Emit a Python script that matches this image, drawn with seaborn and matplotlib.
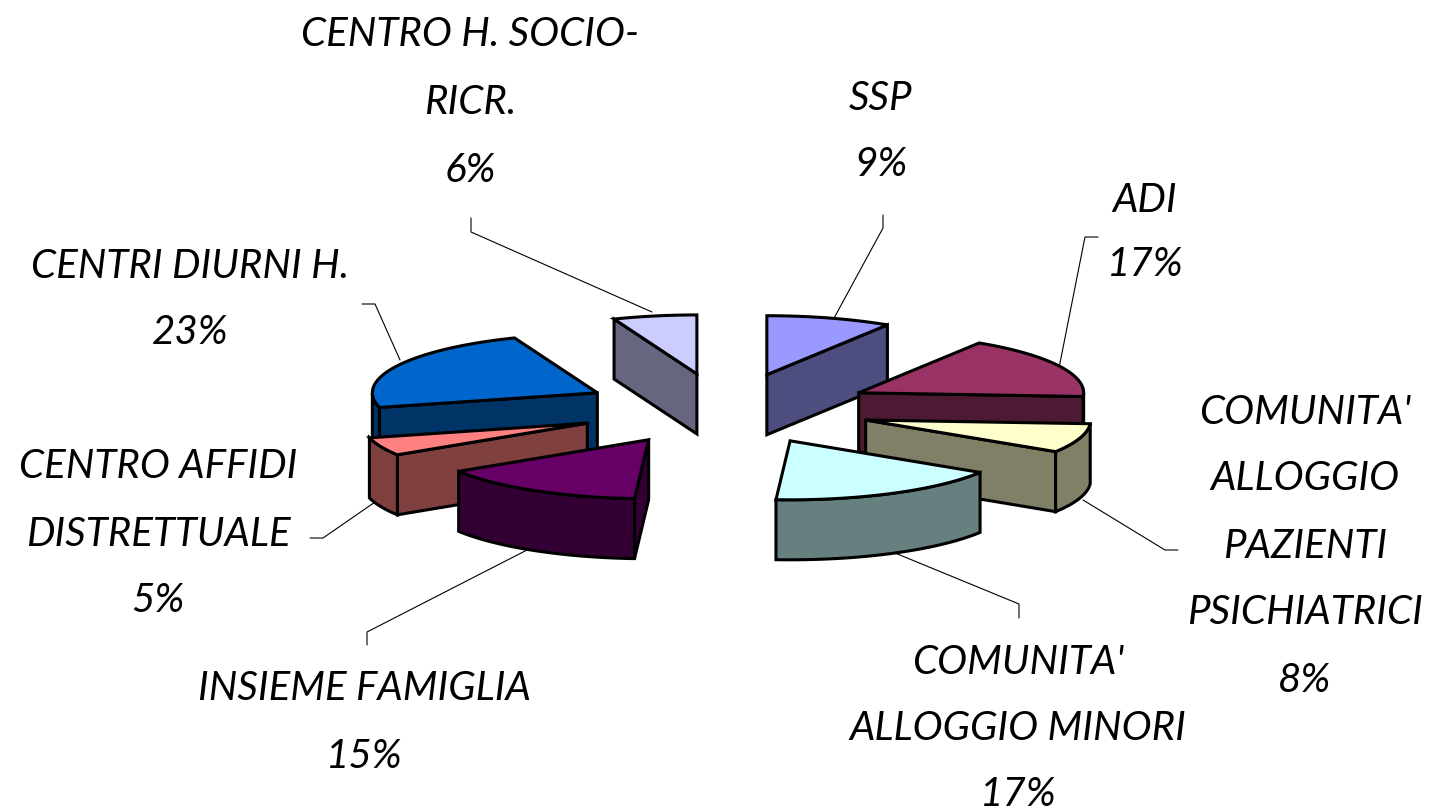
import numpy as np
import matplotlib
matplotlib.use("Agg")
from matplotlib import pyplot as plt
import seaborn as sns

# slices, clockwise from the top
names = ["SSP", "ADI", "COMUNITA'\nALLOGGIO\nPAZIENTI\nPSICHIATRICI",
         "COMUNITA'\nALLOGGIO MINORI", "INSIEME FAMIGLIA",
         "CENTRO AFFIDI\nDISTRETTUALE", "CENTRI DIURNI H.",
         "CENTRO H. SOCIO-\nRICR."]
values = [9, 17, 8, 17, 15, 5, 23, 6]
top_colors = ["#9999FF", "#993366", "#FFFFCC", "#CCFFFF",
              "#660066", "#FF8080", "#0066CC", "#CCCCFF"]

# label placement: x centre, y of first line, line gap
label_x = [881, 1145, 1305, 1018, 364, 158, 190, 470]
label_y = [98, 200, 412, 662, 689, 467, 266, 34]
label_gap = [67, 65, 67, 66, 67, 67, 67, 68]

# leader lines
leaders = [
    ([883, 883, 833], [215, 228, 320]),
    ([1098, 1085, 1059], [237, 237, 368]),
    ([1178, 1165, 1083], [550, 550, 500]),
    ([1019, 1019, 895], [618, 604, 553]),
    ([367, 367, 527], [645, 632, 550]),
    ([310, 323, 378], [538, 538, 500]),
    ([362, 375, 400], [304, 304, 360]),
    ([471, 471, 652], [218, 232, 312]),
]

# order the slices get painted, back to front
draw_order = [7, 0, 1, 6, 2, 3, 5, 4]
# small sideways corrections per slice
nudge_x = [0, 0, -2, -3, 0, 0, 6, 0]

CX, CY = 725, 409
RX, RY = 225, 59
EX, EY = 150, 35.7
DEPTH = 60


def face(ax, xs, ys, color):
    ax.fill(xs, ys, facecolor=color, edgecolor="black", linewidth=2.2,
            joinstyle="miter", zorder=ax.zcount)
    ax.zcount += 1


def draw_slice(ax, start, end, color, shift):
    side = tuple(c * 0.5 for c in color)
    mid = np.radians((start + end) / 2)
    ox = CX + EX * np.sin(mid) + shift
    oy = CY - EY * np.cos(mid)
    t = np.radians(np.linspace(start, end, 60))
    ax_x = ox + RX * np.sin(t)
    ax_y = oy - RY * np.cos(t)

    # cut faces that look towards the viewer
    if np.cos(np.radians(end + 90)) < 0:
        face(ax, [ox, ax_x[-1], ax_x[-1], ox],
             [oy, ax_y[-1], ax_y[-1] + DEPTH, oy + DEPTH], side)
    if np.cos(np.radians(start - 90)) < 0:
        face(ax, [ox, ax_x[0], ax_x[0], ox],
             [oy, ax_y[0], ax_y[0] + DEPTH, oy + DEPTH], side)

    # outer wall, only the front half of the rim
    front = np.cos(t) <= 0
    if front.any():
        fx, fy = ax_x[front], ax_y[front]
        face(ax, np.r_[fx, fx[::-1]], np.r_[fy, fy[::-1] + DEPTH], side)

    face(ax, np.r_[ox, ax_x], np.r_[oy, ax_y], color)


def main():
    sns.set_theme(style="white")
    plt.rcParams["font.family"] = ["Lato", "Liberation Sans"]
    palette = sns.color_palette(top_colors)

    fig = plt.figure(figsize=(14.3, 8.11), dpi=100)
    ax = fig.add_axes([0, 0, 1, 1])
    ax.set_xlim(0, 1430)
    ax.set_ylim(811, 0)
    ax.axis("off")
    ax.zcount = 3

    edges = np.cumsum([0] + values) * 360 / sum(values)
    for i in draw_order:
        draw_slice(ax, edges[i], edges[i + 1], palette[i], nudge_x[i])

    for lx, ly in leaders:
        ax.plot(lx, ly, color="black", linewidth=0.8, zorder=2)

    for i, name in enumerate(names):
        lines = name.split("\n") + [f"{values[i]}%"]
        for j, line in enumerate(lines):
            ax.text(label_x[i], label_y[i] + j * label_gap[i], line,
                    fontsize=29, style="italic", color="black",
                    ha="center", va="center")

    fig.savefig("out.png", dpi=100)


if __name__ == "__main__":
    main()
